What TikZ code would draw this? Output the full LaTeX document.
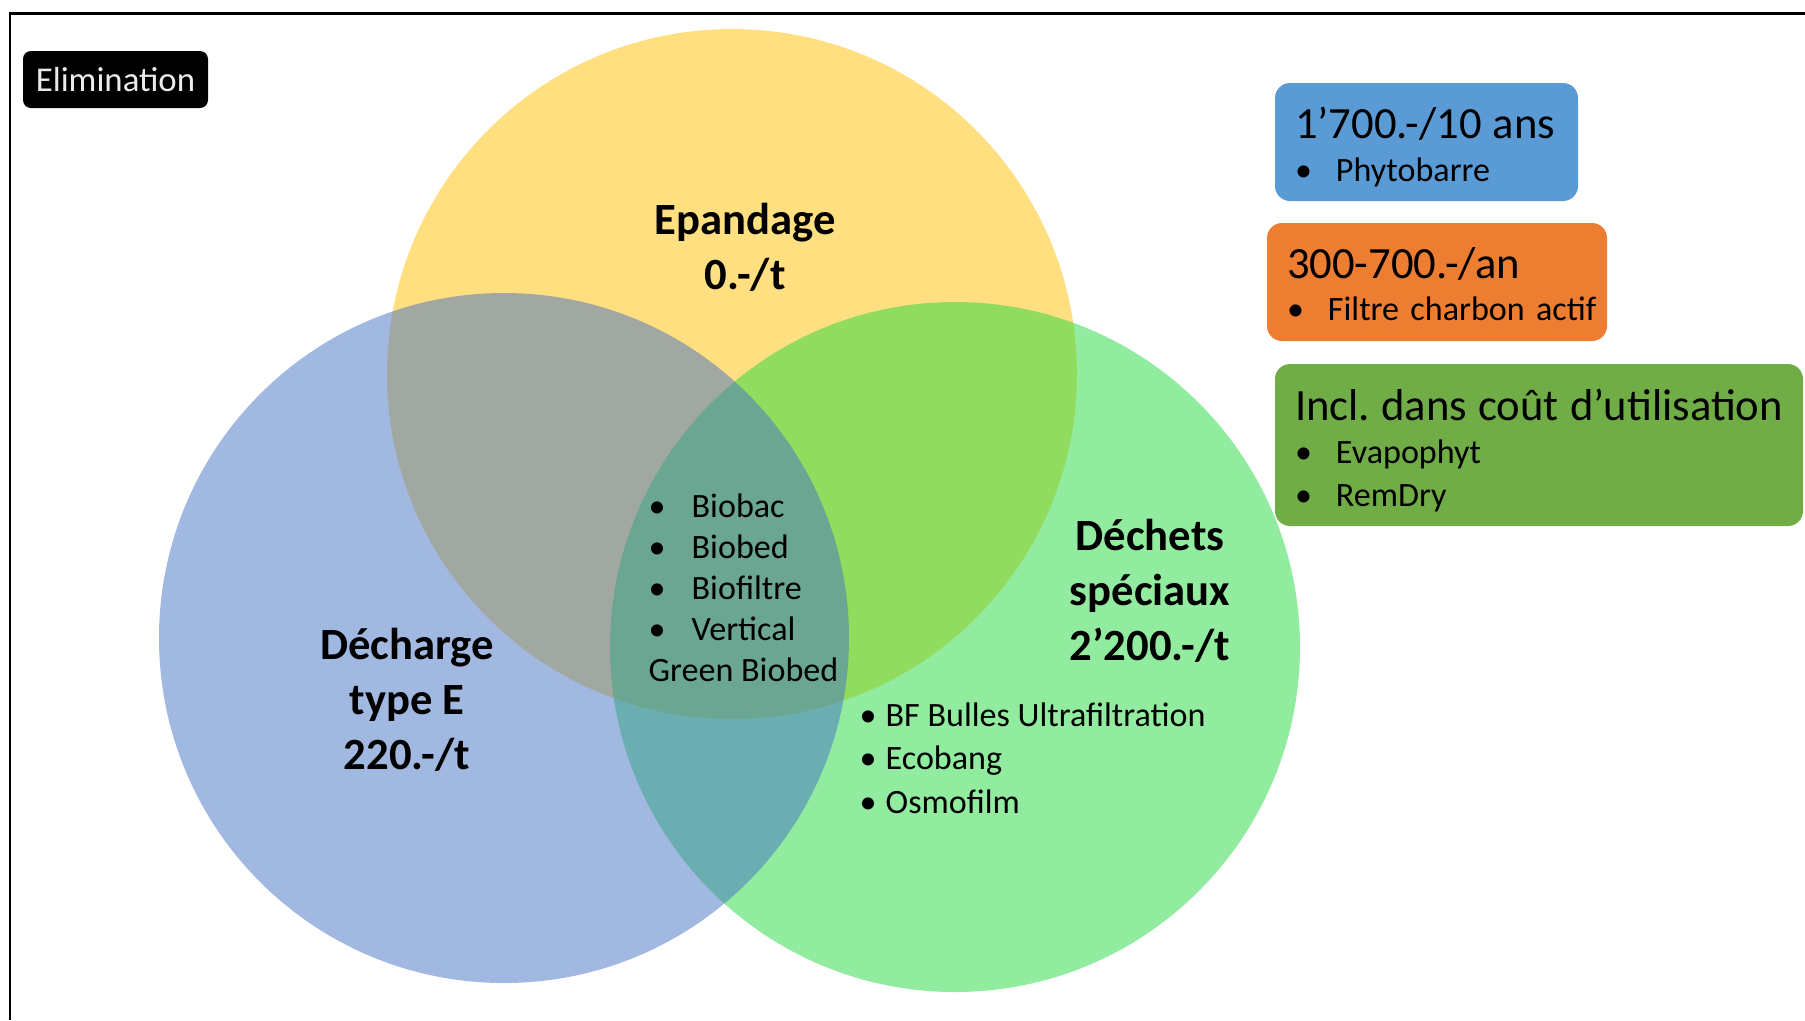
\documentclass[tikz,border=0pt]{standalone}
\usepackage{fontspec}
\setmainfont{Carlito}
\usepackage{xcolor}
\definecolor{myyellow}{HTML}{FFC000}
\definecolor{mygreen}{HTML}{25D941}
\definecolor{myblue}{HTML}{4472C4}
\definecolor{boxblue}{HTML}{5B9BD5}
\definecolor{boxorange}{HTML}{ED7D31}
\definecolor{boxgreen}{HTML}{70AD47}
\frenchspacing
\newcommand{\puce}[2][4.1mm]{\mbox{\makebox[#1][l]{\textbullet}#2}}
\newcommand{\boxtitle}[2][12pt]{{\fontsize{12.7}{15}\selectfont\rule{0pt}{#1}\mbox{#2}\par}}
\tikzset{
	costbox/.style={anchor=north west, rounded corners=1.5mm, inner xsep=2mm, inner ysep=0pt, outer sep=0pt, align=left, font=\fontsize{9.7}{12.2}\selectfont},
	setlabel/.style={align=center, font=\bfseries\fontsize{12.7}{15.6}\selectfont},
	itemlist/.style={anchor=west, align=left, inner sep=0pt}
}

\begin{document}
\begin{tikzpicture}[x=0.1mm,y=-0.1mm]
		\useasboundingbox (0,0) rectangle (1805,1020);
		%% frame (only the left and top sides are visible)
		\draw[line width=0.8pt] (10,1020) -- (10,13.5) -- (1805,13.5);
		%% the three sets, half transparent so that the overlaps mix
		\begin{scope}[fill opacity=.5]
			\fill[myyellow] (732,374) circle (34.5mm);
			\fill[mygreen] (955,647) circle (34.5mm);
			\fill[myblue] (504,638) circle (34.5mm);
		\end{scope}
		%% set names and prices
		\node[setlabel] (epandage) at (745,247) {Epandage\\0.-/t};
		\node[setlabel] (decharge) at (407,700) {Décharge\\type E\\220.-/t};
		\node[setlabel] (dechets) at (1150,591) {Déchets\\spéciaux\\2’200.-/t};
		%% lists inside the sets
		\node[itemlist, font=\fontsize{9.7}{11.7}\selectfont] (centre) at (648,588)
		{\puce[4.3mm]{Biobac}\\ \puce[4.3mm]{Biobed}\\ \puce[4.3mm]{Biofiltre}\\ \puce[4.3mm]{Vertical}\\ Green Biobed};
		\node[itemlist, font=\fontsize{9.7}{12.4}\selectfont] (speciaux) at (859,758)
		{\puce[2.6mm]{BF Bulles Ultrafiltration}\\ \puce[2.6mm]{Ecobang}\\ \puce[2.6mm]{Osmofilm}};
		%% title tag
		\node[fill=black, text=white!92!black, rounded corners=0.8mm, minimum width=18.5mm, minimum height=5.7mm, font=\fontsize{9.9}{12}\selectfont] (elim) at (115.5,79.5) {Elimination};
		%% cost boxes on the right
		\node[costbox, fill=boxblue, text width=26.3mm, minimum height=11.8mm] (phyto) at (1275,83)
		{\boxtitle{1’700.-/10 ans}
			\puce{Phytobarre}};
		\node[costbox, fill=boxorange, text width=30mm, minimum height=11.8mm] (charbon) at (1267,223)
		{\boxtitle[10pt]{300-700.-/an}
			\puce{Filtre charbon actif}};
		\node[costbox, fill=boxgreen, text width=48.8mm, minimum height=16.2mm] (inclus) at (1275,364)
		{\boxtitle{Incl. dans coût d’utilisation}
			\puce{Evapophyt}\par
			\puce{RemDry}};
	\end{tikzpicture}
\end{document}
